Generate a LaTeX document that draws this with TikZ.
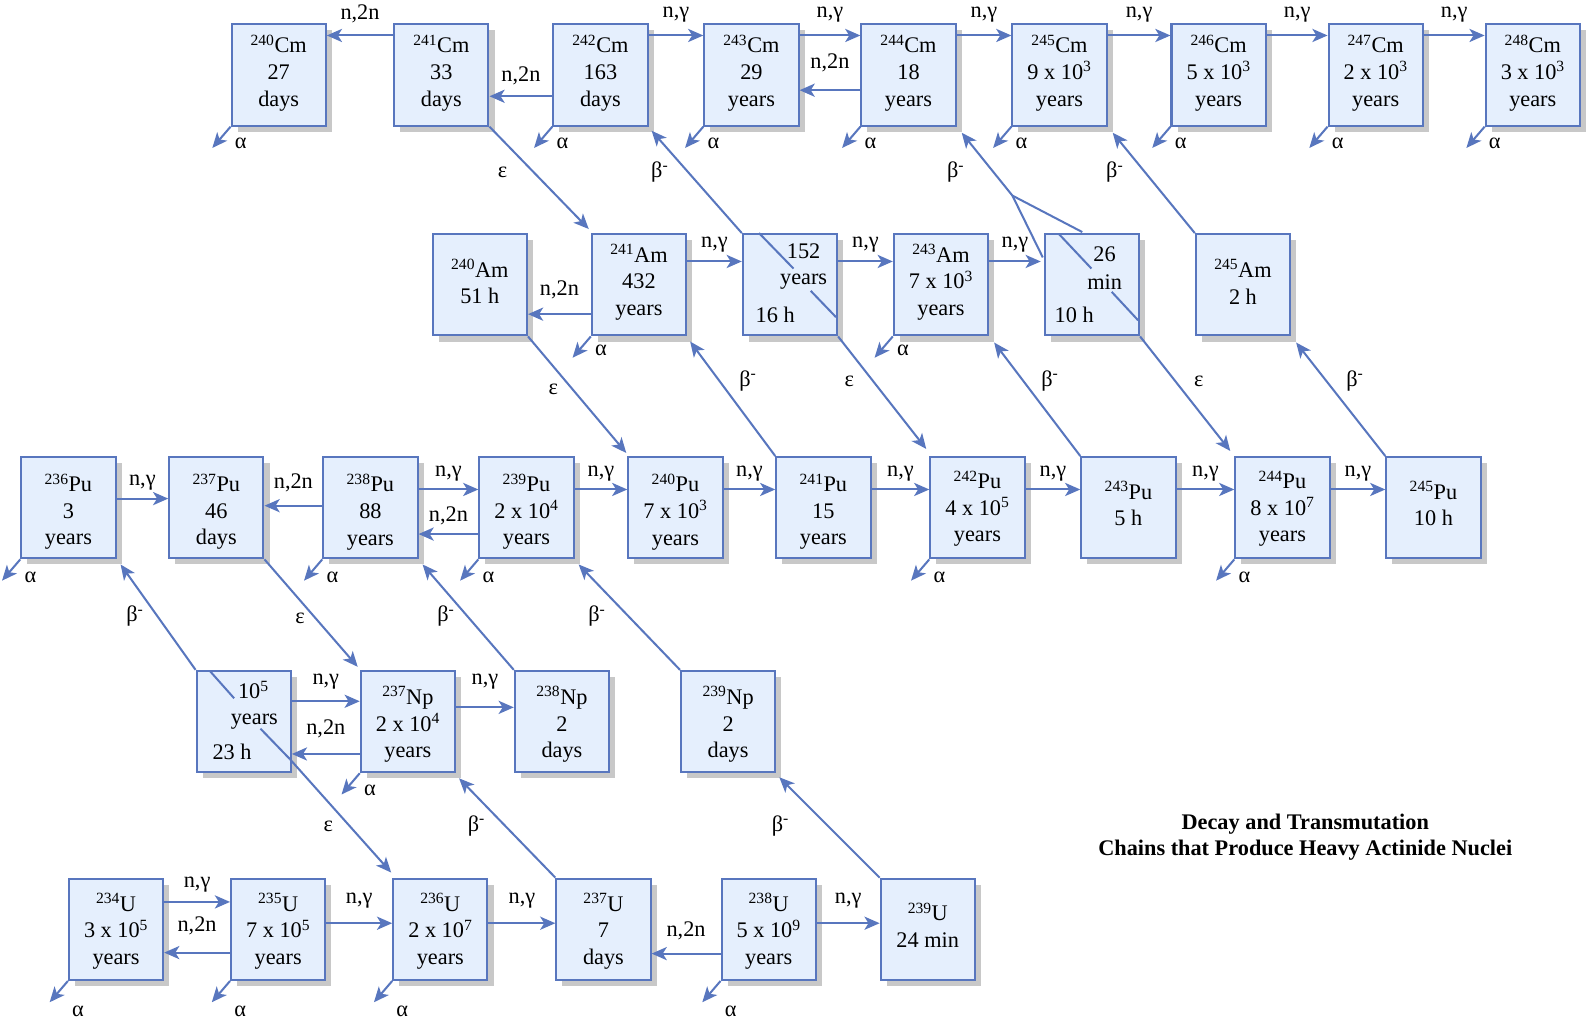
\documentclass[tikz,border=0pt]{standalone}
\usepackage{fontspec}
\setmainfont{Liberation Serif}
\usetikzlibrary{arrows.meta,shadows,calc}
\definecolor{bl}{RGB}{88,118,190}
\definecolor{boxfill}{RGB}{229,239,253}
\definecolor{shad}{RGB}{200,200,200}
\tikzset{
  nucbox/.style={draw=bl, line width=2pt, fill=boxfill, minimum width=93pt, minimum height=100pt,
    inner sep=0pt,
    drop shadow={shadow xshift=6pt, shadow yshift=-6pt, fill=shad, opacity=1}},
  txt/.style={inner sep=0pt, font=\fontsize{22}{26.3}\selectfont},
  lbl/.style={inner sep=0pt, font=\fontsize{22}{26}\selectfont},
  arr/.style={draw=bl, line width=2pt, -{Stealth[length=15pt,width=13pt,inset=4pt]}},
  ln/.style={draw=bl, line width=2pt}
}
% box: name, centre, text, vertical text shift (up positive)
\newcommand{\nuc}[4]{\node[nucbox] (#1) at (#2) {}; \node[txt, align=center] (#1t) at ([yshift=#4pt]#1.center) {#3};}
% rightward n,gamma: from, to, offset below top, label lift
\newcommand{\ngR}[4]{\draw[arr] ([yshift=-#3pt]#1.north east) -- node[lbl, yshift=#4pt]{n,γ} ([yshift=-#3pt]#2.north west);}
% leftward n,2n
\newcommand{\nnL}[4]{\draw[arr] ([yshift=-#3pt]#1.north west) -- node[lbl, yshift=#4pt]{n,2n} ([yshift=-#3pt]#2.north east);}
% alpha: box, label drop
\newcommand{\alp}[2]{\draw[arr] (#1.south west) -- ++(-18,21); \node[lbl] at ([shift={(10pt,-#2pt)}]#1.south west) {α};}
\begin{document}
\begin{tikzpicture}[x=1pt,y=-1pt]
\useasboundingbox (0,0) rectangle (1568,1015);
% Row 1: Cm
\nuc{cm240}{275,74}{\textsuperscript{240}Cm\\27\\days}{2}
\nuc{cm241}{435.5,74}{\textsuperscript{241}Cm\\33\\days}{2}
\nuc{cm242}{592.5,74}{\textsuperscript{242}Cm\\163\\days}{2}
\nuc{cm243}{741.5,74}{\textsuperscript{243}Cm\\29\\years}{2}
\nuc{cm244}{896.5,74}{\textsuperscript{244}Cm\\18\\years}{2}
\nuc{cm245}{1045.5,74}{\textsuperscript{245}Cm\\9 x 10\textsuperscript{3}\\years}{2}
\nuc{cm246}{1202.5,74}{\textsuperscript{246}Cm\\5 x 10\textsuperscript{3}\\years}{2}
\nuc{cm247}{1357.5,74}{\textsuperscript{247}Cm\\2 x 10\textsuperscript{3}\\years}{2}
\nuc{cm248}{1512.5,74}{\textsuperscript{248}Cm\\3 x 10\textsuperscript{3}\\years}{2}
% Row 2: Am
\nuc{am240}{473.5,281}{\textsuperscript{240}Am\\51 h}{3}
\nuc{am241}{630.5,281}{\textsuperscript{241}Am\\432\\years}{2.5}
\node[nucbox] (am242) at (779.5,281) {};
\nuc{am243}{928.5,281}{\textsuperscript{243}Am\\7 x 10\textsuperscript{3}\\years}{2.5}
\node[nucbox] (am244) at (1077.5,281) {};
\nuc{am245}{1226.5,281}{\textsuperscript{245}Am\\2 h}{3}
% Row 3: Pu
\nuc{pu236}{67.5,501}{\textsuperscript{236}Pu\\3\\years}{-4}
\nuc{pu237}{213.5,501}{\textsuperscript{237}Pu\\46\\days}{-4}
\nuc{pu238}{365.5,501}{\textsuperscript{238}Pu\\88\\years}{-4}
\nuc{pu239}{519.5,501}{\textsuperscript{239}Pu\\2 x 10\textsuperscript{4}\\years}{-4}
\nuc{pu240}{666.5,501}{\textsuperscript{240}Pu\\7 x 10\textsuperscript{3}\\years}{-4}
\nuc{pu241}{812.5,501}{\textsuperscript{241}Pu\\15\\years}{-4}
\nuc{pu242}{964.5,501}{\textsuperscript{242}Pu\\4 x 10\textsuperscript{5}\\years}{-1}
\nuc{pu243}{1113.5,501}{\textsuperscript{243}Pu\\5 h}{4}
\nuc{pu244}{1265.5,501}{\textsuperscript{244}Pu\\8 x 10\textsuperscript{7}\\years}{-1}
\nuc{pu245}{1414.5,501}{\textsuperscript{245}Pu\\10 h}{4}
% Row 4: Np
\node[nucbox] (np236) at (240.5,712) {};
\nuc{np237}{402.5,712}{\textsuperscript{237}Np\\2 x 10\textsuperscript{4}\\years}{-3}
\nuc{np238}{554.5,712}{\textsuperscript{238}Np\\2\\days}{-3}
\nuc{np239}{718.5,712}{\textsuperscript{239}Np\\2\\days}{-3}
% Row 5: U
\nuc{u234}{114.5,917}{\textsuperscript{234}U\\3 x 10\textsuperscript{5}\\years}{-2}
\nuc{u235}{274.5,917}{\textsuperscript{235}U\\7 x 10\textsuperscript{5}\\years}{-2}
\nuc{u236}{434.5,917}{\textsuperscript{236}U\\2 x 10\textsuperscript{7}\\years}{-2}
\nuc{u237}{595.5,917}{\textsuperscript{237}U\\7\\days}{-2}
\nuc{u238}{758.5,917}{\textsuperscript{238}U\\5 x 10\textsuperscript{9}\\years}{-2}
\nuc{u239}{915.5,917}{\textsuperscript{239}U\\24 min}{4}
% special box texts
\node[txt] (t242a) at ([shift={(13.5pt,33pt)}]am242.center) {152};
\node[txt] (t242b) at ([shift={(13.5pt,3pt)}]am242.center) {years};
\node[txt] (t242c) at ([shift={(-14.5pt,-30pt)}]am242.center) {16 h};
\node[txt] (t244a) at ([shift={(12.5pt,30pt)}]am244.center) {26};
\node[txt] (t244b) at ([shift={(12.5pt,3pt)}]am244.center) {min};
\node[txt] (t244c) at ([shift={(-17.5pt,-30pt)}]am244.center) {10 h};
\node[txt] (t236a) at ([shift={(9.5pt,31pt)}]np236.center) {10\textsuperscript{5}};
\node[txt] (t236b) at ([shift={(10.5pt,0pt)}]np236.center) {years};
\node[txt] (t236c) at ([shift={(-11.5pt,-30pt)}]np236.center) {23 h};
% title
\node[txt, font=\fontsize{22}{26}\selectfont\bfseries, align=center] (title) at (1288,826) {Decay and Transmutation\\Chains that Produce Heavy Actinide Nuclei};

% Row 1 horizontal
\nnL{cm241}{cm240}{12}{21}
\nnL{cm242}{cm241}{72}{20}
\ngR{cm242}{cm243}{12}{21}
\ngR{cm243}{cm244}{12}{21}
\nnL{cm244}{cm243}{66}{27}
\ngR{cm244}{cm245}{12}{21}
\ngR{cm245}{cm246}{12}{21}
\ngR{cm246}{cm247}{12}{21}
\ngR{cm247}{cm248}{12}{21}
\alp{cm240}{16}\alp{cm242}{16}\alp{cm243}{16}\alp{cm244}{16}
\alp{cm245}{16}\alp{cm246}{16}\alp{cm247}{16}\alp{cm248}{16}
% Row 2 horizontal
\nnL{am241}{am240}{80}{24}
\ngR{am241}{am242}{28}{17}
\ngR{am242}{am243}{28}{17}
\draw[arr] ([yshift=-28pt]am243.north east) -- node[lbl, yshift=17pt]{n,γ} ([shift={(-3pt,-28pt)}]am244.north west);
\alp{am241}{14}\alp{am243}{14}
% Row 3 horizontal
\ngR{pu236}{pu237}{42}{16}
\nnL{pu238}{pu237}{49}{23}
\ngR{pu238}{pu239}{33}{16}
\nnL{pu239}{pu238}{77}{18}
\ngR{pu239}{pu240}{33}{16}
\ngR{pu240}{pu241}{33}{16}
\ngR{pu241}{pu242}{33}{16}
\ngR{pu242}{pu243}{33}{16}
\ngR{pu243}{pu244}{33}{16}
\ngR{pu244}{pu245}{33}{16}
\alp{pu236}{18}\alp{pu238}{18}\alp{pu239}{18}\alp{pu242}{18}\alp{pu244}{18}
% Row 4 horizontal
\ngR{np236}{np237}{31}{19}
\nnL{np237}{np236}{83}{25}
\ngR{np237}{np238}{37}{25}
\alp{np237}{17}
% Row 5 horizontal
\ngR{u234}{u235}{24}{17}
\nnL{u235}{u234}{74}{26}
\ngR{u235}{u236}{45}{22}
\ngR{u236}{u237}{45}{22}
\nnL{u238}{u237}{75}{22}
\ngR{u238}{u239}{45}{22}
\alp{u234}{30}\alp{u235}{30}\alp{u236}{30}\alp{u238}{30}

% Diagonal connectors, rows 1-2
\draw[arr] (cm241.south east) -- ($(am241.north west)+(-2,-4)$);
\node[lbl] (e1) at (496,170) {ε};
\draw[arr] (am242.north west) -- ($(cm242.south east)+(3,4)$);
\draw[ln] ($(am242.north west)+(17,0)$) -- ($(am242.north west)+(51,35)$);
\draw[ln] ($(am242.north west)+(68,57)$) -- ($(am242.north west)+(93,83)$);
\node[lbl] (b1) at (651,170) {β\textsuperscript{-}};
\coordinate (j244) at (999,193);
\draw[arr] ($(am244.north west)+(-1,24)$) -- (j244) -- ($(cm244.south east)+(5,6)$);
\draw[ln] (j244) -- ($(am244.north west)+(38,-1)$);
\draw[ln] ($(am244.north west)+(15,1)$) -- ($(am244.north west)+(47,35)$);
\draw[ln] ($(am244.north west)+(67,58)$) -- ($(am244.north west)+(93,86)$);
\node[lbl] (b2) at (943,170) {β\textsuperscript{-}};
\draw[arr] (am245.north west) -- ($(cm245.south east)+(5,6)$);
\node[lbl] (b3) at (1100,170) {β\textsuperscript{-}};
% rows 2-3
\draw[arr] (am240.south east) -- ($(pu240.north west)+(-1,-3)$);
\node[lbl] (e2) at (546,384) {ε};
\draw[arr] (pu241.north west) -- ($(am241.south east)+(3,5)$);
\node[lbl] (b4) at (738,376) {β\textsuperscript{-}};
\draw[arr] (am242.south east) -- ($(pu242.north west)+(-3,-7)$);
\node[lbl] (e3) at (838,376) {ε};
\draw[arr] (pu243.north west) -- ($(am243.south east)+(5,6)$);
\node[lbl] (b5) at (1036,376) {β\textsuperscript{-}};
\draw[arr] (am244.south east) -- ($(pu244.north west)+(-4,-5)$);
\node[lbl] (e4) at (1183,376) {ε};
\draw[arr] (pu245.north west) -- ($(am245.south east)+(5,6)$);
\node[lbl] (b6) at (1337,376) {β\textsuperscript{-}};
% rows 3-4
\draw[arr] (np236.north west) -- ($(pu236.south east)+(4,5)$);
\draw[ln] ($(np236.north west)+(14,1)$) -- ($(np236.north west)+(38,28)$);
\draw[ln] ($(np236.north west)+(64,58)$) -- ($(np236.north west)+(93,88)$);
\node[lbl] (b7) at (133,608) {β\textsuperscript{-}};
\draw[arr] (pu237.south east) -- ($(np237.north west)+(-2,-3)$);
\node[lbl] (e5) at (296,610) {ε};
\draw[arr] (np238.north west) -- ($(pu238.south east)+(4,5)$);
\node[lbl] (b8) at (440,608) {β\textsuperscript{-}};
\draw[arr] (np239.north west) -- ($(pu239.south east)+(4,5)$);
\node[lbl] (b9) at (589,608) {β\textsuperscript{-}};
% rows 4-5
\draw[arr] ($(np236.north west)+(93,88)$) -- ($(u236.north west)+(-1,-5)$);
\node[lbl] (e6) at (324,815) {ε};
\draw[arr] (u237.north west) -- ($(np237.south east)+(3,5)$);
\node[lbl] (b10) at (470,815) {β\textsuperscript{-}};
\draw[arr] (u239.north west) -- ($(np239.south east)+(3,4)$);
\node[lbl] (b11) at (770,815) {β\textsuperscript{-}};
\end{tikzpicture}
\end{document}
